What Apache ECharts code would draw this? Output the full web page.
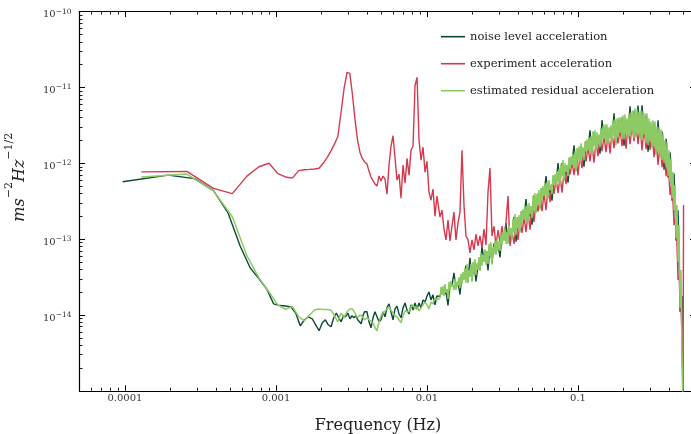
<!DOCTYPE html>
<html>
<head>
<meta charset="utf-8">
<script src="https://cdn.jsdelivr.net/npm/echarts@6/dist/echarts.min.js"></script>
<style>
html,body{margin:0;padding:0;background:#fff;}
#chart{width:691px;height:434px;}
</style>
</head>
<body>
<div id="chart"></div>
<script>
// ---------------- data ----------------
const seriesNames = ['noise level acceleration', 'experiment acceleration', 'estimated residual acceleration'];

// noise level: low-frequency bins
const noiseLowFreq = [9.65e-5, 1.93e-4, 2.895e-4, 3.86e-4, 4.825e-4, 5.79e-4, 6.755e-4, 7.72e-4, 8.685e-4, 9.65e-4,
  1.0615e-3, 1.158e-3, 1.2545e-3, 1.351e-3, 1.4475e-3, 1.544e-3, 1.6405e-3, 1.737e-3, 1.8335e-3, 1.93e-3,
  2.0265e-3, 2.123e-3, 2.2195e-3, 2.316e-3, 2.4125e-3, 2.509e-3, 2.6055e-3, 2.702e-3, 2.7985e-3, 2.895e-3,
  2.9915e-3, 3.088e-3, 3.1845e-3, 3.281e-3, 3.3775e-3, 3.474e-3, 3.5705e-3, 3.667e-3, 3.7635e-3, 3.86e-3];
const noiseLowVal = [5.7e-13, 6.99e-13, 6.28e-13, 4.36e-13, 2.2e-13, 8.13e-14, 4.17e-14, 2.99e-14, 2.2e-14, 1.40e-14,
  1.33e-14, 1.31e-14, 1.28e-14, 1.06e-14, 7.2e-15, 8.64e-15, 9.47e-15, 8.91e-15, 7.42e-15, 6.19e-15,
  7.89e-15, 8.64e-15, 7.42e-15, 6.99e-15, 9.18e-15, 1.06e-14, 9.18e-15, 8.13e-15, 9.76e-15, 9.47e-15,
  1.06e-14, 8.91e-15, 9.76e-15, 9.18e-15, 9.76e-15, 8.64e-15, 8.13e-15, 7.65e-15, 9.76e-15, 1.10e-14];

// experiment / residual: low-frequency bins
const expLowFreq = [1.285e-4, 2.57e-4, 3.855e-4, 5.14e-4, 6.425e-4, 7.71e-4, 8.995e-4, 1.028e-3, 1.1565e-3, 1.285e-3,
  1.4135e-3, 1.542e-3, 1.6705e-3, 1.799e-3, 1.9275e-3, 2.056e-3, 2.1845e-3, 2.313e-3, 2.4415e-3, 2.57e-3,
  2.6985e-3, 2.827e-3, 2.9555e-3, 3.084e-3, 3.2125e-3, 3.341e-3, 3.4695e-3, 3.598e-3, 3.7265e-3, 3.855e-3];
const expLowVal = [7.7e-13, 7.8e-13, 4.66e-13, 3.98e-13, 6.78e-13, 9.0e-13, 1.0e-12, 7.3e-13, 6.6e-13, 6.38e-13,
  8.0e-13, 8.2e-13, 8.3e-13, 8.4e-13, 8.6e-13, 1.0e-12, 1.2e-12, 1.46e-12, 1.8e-12, 2.26e-12,
  4.71e-12, 9.76e-12, 1.58e-11, 1.53e-11, 7.89e-12, 3.69e-12, 2.01e-12, 1.40e-12, 1.16e-12, 1.05e-12];
const resLowVal = [6.58e-13, 7.2e-13, 4.34e-13, 1.97e-13, 6.0e-14, 3.08e-14, 2.01e-14, 1.36e-14, 1.19e-14, 1.29e-14,
  9.55e-15, 8.38e-15, 1.0e-14, 1.16e-14, 1.2e-14, 1.18e-14, 1.18e-14, 1.16e-14, 9.76e-15, 8.13e-15,
  1.06e-14, 9.18e-15, 1.10e-14, 1.2e-14, 1.2e-14, 1.06e-14, 9.18e-15, 1.0e-14, 9.47e-15, 8.64e-15];

// mid frequencies (shared)
const midFreq = [4.007e-3, 4.131e-3, 4.259e-3, 4.391e-3, 4.527e-3, 4.667e-3, 4.812e-3, 4.961e-3, 5.115e-3, 5.273e-3,
  5.437e-3, 5.605e-3, 5.779e-3, 5.958e-3, 6.142e-3, 6.333e-3, 6.529e-3, 6.731e-3, 6.940e-3, 7.155e-3,
  7.376e-3, 7.605e-3, 7.840e-3, 8.083e-3, 8.334e-3, 8.592e-3, 8.858e-3, 9.132e-3, 9.415e-3, 9.707e-3,
  1.0e-2, 1.031e-2, 1.063e-2, 1.096e-2, 1.130e-2, 1.165e-2];
const noiseMidVal = [1.10e-14, 8.13e-15, 6.78e-15, 9.18e-15, 1.10e-14, 1.16e-14, 8.13e-15, 8.64e-15, 1.10e-14, 9.47e-15,
  1.24e-14, 1.40e-14, 1.10e-14, 8.64e-15, 1.2e-14, 1.31e-14, 1.03e-14, 9.18e-15, 1.24e-14, 1.44e-14,
  1.16e-14, 1.03e-14, 1.36e-14, 1.16e-14, 1.44e-14, 1.2e-14, 1.44e-14, 1.24e-14, 1.58e-14, 1.48e-14,
  1.78e-14, 2.01e-14, 1.58e-14, 1.84e-14, 1.36e-14, 1.78e-14];
const expMidVal = [9.76e-13, 7.89e-13, 6.58e-13, 5.9e-13, 5.32e-13, 5.0e-13, 6.78e-13, 5.82e-13, 6.78e-13, 6.19e-13,
  3.92e-13, 9.47e-13, 1.68e-12, 2.31e-12, 2.2e-12, 6.0e-13, 7.2e-13, 3.47e-13, 9.47e-13, 5.48e-13,
  1.16e-12, 6.99e-13, 1.48e-12, 1.68e-12, 1.06e-11, 1.36e-11, 2.01e-12, 1.10e-12, 1.63e-12, 7.65e-13,
  1.06e-12, 4.17e-13, 3.27e-13, 4.57e-13, 2.01e-13, 3.69e-13];
const resMidVal = [9.18e-15, 8.64e-15, 8.13e-15, 7.89e-15, 6.78e-15, 6.19e-15, 8.13e-15, 9.76e-15, 1.06e-14, 1.13e-14,
  1.2e-14, 1.28e-14, 1.16e-14, 1.06e-14, 9.76e-15, 9.47e-15, 8.64e-15, 7.89e-15, 9.76e-15, 1.13e-14,
  1.2e-14, 1.10e-14, 1.28e-14, 1.36e-14, 1.2e-14, 1.28e-14, 1.13e-14, 1.24e-14, 1.36e-14, 1.48e-14,
  1.36e-14, 1.2e-14, 1.48e-14, 1.40e-14, 1.68e-14, 1.58e-14];

// high frequencies: bins A (shared by all three series)
const hfFreq = [0.01219, 0.01257, 0.01296, 0.01336, 0.01378, 0.01420, 0.01464, 0.01509, 0.01556, 0.01604,
  0.01654, 0.01705, 0.01758, 0.01812, 0.01869, 0.01926, 0.01986, 0.02048, 0.02111, 0.02177,
  0.02244, 0.02314, 0.02385, 0.02459, 0.02536, 0.02614, 0.02695, 0.02779, 0.02865, 0.02954,
  0.03045, 0.03139, 0.03237, 0.03337, 0.03440, 0.03547, 0.03657, 0.03770, 0.03887, 0.04007,
  0.04131, 0.04259, 0.04391, 0.04527, 0.04667, 0.04812, 0.04961, 0.05115, 0.05273, 0.05437,
  0.05605, 0.05779, 0.05958, 0.06142, 0.06333, 0.06529, 0.06731, 0.06940, 0.07155, 0.07376,
  0.07605, 0.07840, 0.08083, 0.08334, 0.08592, 0.08858, 0.09132, 0.09415, 0.09707, 0.1000,
  0.1031, 0.1063, 0.1096, 0.1130, 0.1165, 0.1201, 0.1238, 0.1277, 0.1316, 0.1357,
  0.1399, 0.1442, 0.1487, 0.1533, 0.1581, 0.1630, 0.1680, 0.1732, 0.1786, 0.1841,
  0.1898, 0.1957, 0.2018, 0.2080, 0.2145, 0.2211, 0.2280, 0.2350, 0.2423, 0.2498,
  0.2576, 0.2655, 0.2738, 0.2822, 0.2910, 0.3000, 0.3093, 0.3189, 0.3288, 0.3390,
  0.3495, 0.3603, 0.3715, 0.3830, 0.3948, 0.4071, 0.4197, 0.4327, 0.4461, 0.4599,
  0.4741, 0.4888];
// high frequencies: bins B (in between bins A, residual only)
const hfFreqB = [0.01238, 0.01276, 0.01316, 0.01357, 0.01399, 0.01442, 0.01487, 0.01533, 0.01580, 0.01629,
  0.01680, 0.01732, 0.01785, 0.01841, 0.01897, 0.01956, 0.02017, 0.02079, 0.02144, 0.02210,
  0.02278, 0.02349, 0.02421, 0.02496, 0.02574, 0.02653, 0.02735, 0.02820, 0.02907, 0.02997,
  0.03090, 0.03186, 0.03284, 0.03386, 0.03491, 0.03599, 0.03710, 0.03825, 0.03944, 0.04066,
  0.04192, 0.04322, 0.04456, 0.04594, 0.04736, 0.04883, 0.05034, 0.05190, 0.05351, 0.05516,
  0.05687, 0.05863, 0.06045, 0.06232, 0.06425, 0.06624, 0.06829, 0.07041, 0.07259, 0.07484,
  0.07715, 0.07954, 0.08200, 0.08454, 0.08716, 0.08986, 0.09264, 0.09553, 0.09849, 0.1015,
  0.1047, 0.1079, 0.1113, 0.1147, 0.1183, 0.1219, 0.1257, 0.1296, 0.1336, 0.1378,
  0.1420, 0.1464, 0.1510, 0.1556, 0.1605, 0.1654, 0.1706, 0.1758, 0.1813, 0.1869,
  0.1927, 0.1987, 0.2048, 0.2112, 0.2177, 0.2244, 0.2314, 0.2385, 0.2459, 0.2535,
  0.2614, 0.2694, 0.2778, 0.2864, 0.2952, 0.3044, 0.3138, 0.3235, 0.3335, 0.3439,
  0.3545, 0.3655, 0.3768, 0.3884, 0.4005, 0.4129, 0.4256, 0.4388, 0.4524, 0.4664,
  0.4809];
const noiseHfVal = [1.76e-14, 2.18e-14, 1.87e-14, 2.03e-14, 1.34e-14, 2.61e-14, 2.46e-14, 3.59e-14, 2.25e-14, 2.74e-14,
  1.86e-14, 3.43e-14, 3.0e-14, 4.46e-14, 2.77e-14, 5.65e-14, 2.85e-14, 4.95e-14, 2.76e-14, 4.46e-14,
  4.0e-14, 7.9e-14, 5.25e-14, 6.9e-14, 3.86e-14, 8.46e-14, 4.87e-14, 8.81e-14, 6.5e-14, 8.62e-14,
  5.73e-14, 1.15e-13, 9.94e-14, 1.63e-13, 9.07e-14, 1.29e-13, 1.05e-13, 1.97e-13, 9.27e-14, 1.93e-13,
  1.28e-13, 2.32e-13, 1.87e-13, 3.37e-13, 1.76e-13, 2.5e-13, 1.55e-13, 3.78e-13, 2.31e-13, 4.0e-13,
  2.58e-13, 4.65e-13, 3.89e-13, 6.78e-13, 3.64e-13, 4.72e-13, 3.21e-13, 6.7e-13, 5.34e-13, 1.01e-12,
  5.59e-13, 1.01e-12, 6.11e-13, 8.7e-13, 5.56e-13, 1.15e-12, 9.94e-13, 1.73e-12, 8.17e-13, 1.56e-12,
  1.08e-12, 1.5e-12, 9.02e-13, 1.93e-12, 1.53e-12, 2.72e-12, 1.38e-12, 2.55e-12, 1.55e-12, 2.22e-12,
  1.34e-12, 3.7e-12, 2.18e-12, 3.04e-12, 1.93e-12, 2.93e-12, 1.98e-12, 4.57e-12, 1.85e-12, 3.76e-12,
  2.6e-12, 4.0e-12, 1.7e-12, 3.61e-12, 2.25e-12, 5.65e-12, 2.66e-12, 4.88e-12, 2.31e-12, 5.75e-12,
  2.25e-12, 5.82e-12, 2.46e-12, 4.25e-12, 1.42e-12, 3.31e-12, 1.66e-12, 3.33e-12, 1.35e-12, 3.7e-12,
  1.26e-12, 2.62e-12, 8.2e-13, 2.1e-12, 6.5e-13, 1.4e-12, 3.2e-13, 7.3e-13, 9.5e-14, 2.4e-13,
  1.1e-14, 1.78e-14];
const expHfVal = [1.95e-13, 2.41e-13, 1.36e-13, 9.76e-14, 1.78e-13, 9.47e-14, 1.48e-13, 2.27e-13, 9.76e-14, 1.63e-13,
  2.27e-13, 1.48e-12, 2.81e-13, 1.10e-13, 9.76e-14, 6.58e-14, 9.76e-14, 7.2e-14, 1.16e-13, 8.13e-14,
  1.10e-13, 7.65e-14, 1.36e-13, 8.38e-14, 4.17e-13, 8.64e-13, 1.10e-13, 1.48e-13, 8.13e-14, 1.31e-13,
  9.18e-14, 1.48e-13, 9.76e-14, 1.68e-13, 3.69e-13, 8.13e-14, 1.28e-13, 8.64e-14, 1.44e-13, 9.76e-14,
  1.68e-13, 1.21e-13, 1.95e-13, 1.24e-13, 2.27e-13, 1.33e-13, 2.64e-13, 1.68e-13, 3.08e-13, 2.31e-13,
  3.58e-13, 2.34e-13, 4.04e-13, 2.4e-13, 4.71e-13, 3.08e-13, 5.32e-13, 3.94e-13, 6.19e-13, 4.04e-13,
  6.78e-13, 4.11e-13, 7.89e-13, 5.32e-13, 9.18e-13, 7.12e-13, 1.03e-12, 6.99e-13, 1.16e-12, 6.94e-13,
  1.31e-12, 8.64e-13, 1.44e-12, 1.06e-12, 1.63e-12, 1.06e-12, 1.78e-12, 1.02e-12, 1.95e-12, 1.24e-12,
  2.14e-12, 1.44e-12, 2.27e-12, 1.40e-12, 2.41e-12, 1.35e-12, 2.56e-12, 1.58e-12, 2.73e-12, 1.83e-12,
  2.81e-12, 1.68e-12, 2.9e-12, 1.56e-12, 3.08e-12, 1.78e-12, 3.17e-12, 1.96e-12, 3.27e-12, 1.78e-12,
  3.27e-12, 1.48e-12, 2.99e-12, 1.53e-12, 2.81e-12, 1.5e-12, 2.49e-12, 1.20e-12, 2.2e-12, 9.5e-13,
  1.84e-12, 8.91e-13, 1.53e-12, 6.78e-13, 1.06e-12, 3.81e-13, 5.65e-13, 1.53e-13, 2.07e-13, 2.9e-14,
  3.37e-14, 4.71e-15];
// residual: values at bins A (lower edge of the band) and bins B (upper edge)
const resHfValA = [1.68e-14, 1.84e-14, 1.78e-14, 1.95e-14, 1.63e-14, 2.07e-14, 2.34e-14, 2.14e-14, 2.14e-14, 2.41e-14,
  2.27e-14, 2.56e-14, 2.9e-14, 2.64e-14, 2.64e-14, 3.17e-14, 2.73e-14, 3.58e-14, 3.37e-14, 3.92e-14,
  3.81e-14, 4.43e-14, 5.0e-14, 4.57e-14, 4.71e-14, 6.0e-14, 4.64e-14, 6.38e-14, 6.19e-14, 7.2e-14,
  6.99e-14, 8.38e-14, 9.47e-14, 8.64e-14, 8.64e-14, 1.13e-13, 1.0e-13, 1.24e-13, 1.13e-13, 1.40e-13,
  1.22e-13, 1.68e-13, 1.78e-13, 1.63e-13, 1.68e-13, 2.14e-13, 1.89e-13, 2.34e-13, 2.2e-13, 2.81e-13,
  2.45e-13, 3.27e-13, 3.69e-13, 3.58e-13, 3.47e-13, 4.43e-13, 3.92e-13, 5.16e-13, 5.1e-13, 5.65e-13,
  5.32e-13, 6.78e-13, 5.82e-13, 7.65e-13, 6.78e-13, 8.38e-13, 9.47e-13, 8.64e-13, 7.77e-13, 1.10e-12,
  1.03e-12, 1.20e-12, 1.10e-12, 1.44e-12, 1.46e-12, 1.36e-12, 1.31e-12, 1.68e-12, 1.48e-12, 1.73e-12,
  1.63e-12, 2.01e-12, 2.07e-12, 1.84e-12, 1.84e-12, 2.14e-12, 1.89e-12, 2.27e-12, 1.75e-12, 2.2e-12,
  2.49e-12, 2.07e-12, 2.07e-12, 2.41e-12, 2.14e-12, 2.27e-12, 2.53e-12, 2.14e-12, 2.2e-12, 2.41e-12,
  2.14e-12, 2.01e-12, 2.34e-12, 1.84e-12, 1.73e-12, 1.95e-12, 1.58e-12, 1.68e-12, 1.29e-12, 1.44e-12,
  1.20e-12, 1.10e-12, 1.0e-12, 9.18e-13, 6.78e-13, 5.65e-13, 3.47e-13, 2.41e-13, 1.03e-13, 5.0e-14,
  1.24e-14, 2.56e-15];
const resHfValB = [2.34e-14, 2.41e-14, 2.56e-14, 2.2e-14, 2.73e-14, 2.81e-14, 2.49e-14, 2.99e-14, 2.73e-14, 3.17e-14,
  3.47e-14, 3.69e-14, 4.17e-14, 4.71e-14, 3.92e-14, 4.71e-14, 5.0e-14, 5.48e-14, 4.85e-14, 5.82e-14,
  6.58e-14, 6.19e-14, 7.42e-14, 6.99e-14, 8.64e-14, 9.18e-14, 7.89e-14, 9.47e-14, 9.76e-14, 9.33e-14,
  1.16e-13, 1.24e-13, 1.36e-13, 1.24e-13, 1.53e-13, 1.40e-13, 1.84e-13, 2.14e-13, 1.95e-13, 2.07e-13,
  2.34e-13, 2.49e-13, 2.73e-13, 2.81e-13, 2.99e-13, 2.73e-13, 3.69e-13, 4.04e-13, 3.92e-13, 4.43e-13,
  4.71e-13, 5.0e-13, 5.48e-13, 5.65e-13, 6.0e-13, 5.16e-13, 6.99e-13, 7.2e-13, 7.89e-13, 8.38e-13,
  9.76e-13, 1.10e-12, 1.0e-12, 9.47e-13, 1.20e-12, 1.24e-12, 1.31e-12, 1.44e-12, 1.58e-12, 1.68e-12,
  1.84e-12, 1.63e-12, 1.95e-12, 2.07e-12, 2.2e-12, 2.27e-12, 2.64e-12, 2.73e-12, 2.56e-12, 2.41e-12,
  2.9e-12, 3.08e-12, 3.27e-12, 3.27e-12, 2.99e-12, 3.17e-12, 3.69e-12, 3.81e-12, 3.92e-12, 4.04e-12,
  4.04e-12, 4.3e-12, 4.43e-12, 3.92e-12, 4.57e-12, 4.71e-12, 5.0e-12, 5.32e-12, 5.16e-12, 4.78e-12,
  5.0e-12, 4.85e-12, 4.57e-12, 4.57e-12, 3.92e-12, 3.58e-12, 3.69e-12, 3.58e-12, 3.08e-12, 2.99e-12,
  2.81e-12, 2.49e-12, 2.01e-12, 1.89e-12, 1.48e-12, 1.16e-12, 7.65e-13, 5.16e-13, 2.81e-13, 1.53e-13,
  3.92e-14];

// Nyquist end
const tailFreq = [0.4961, 0.5];
const noiseTailVal = [5e-16, 5e-16];
const expTailVal = [6e-16, 2.81e-13];
const resTailVal = [6e-16, 6e-16];

// axis ticks
const xMinorTicks = [6e-5, 7e-5, 8e-5, 9e-5,
  2e-4, 3e-4, 4e-4, 5e-4, 6e-4, 7e-4, 8e-4, 9e-4,
  2e-3, 3e-3, 4e-3, 5e-3, 6e-3, 7e-3, 8e-3, 9e-3,
  2e-2, 3e-2, 4e-2, 5e-2, 6e-2, 7e-2, 8e-2, 9e-2,
  0.2, 0.3, 0.4, 0.5];
const yMinorTicks = [2e-15, 3e-15, 4e-15, 5e-15, 6e-15, 7e-15, 8e-15, 9e-15,
  2e-14, 3e-14, 4e-14, 5e-14, 6e-14, 7e-14, 8e-14, 9e-14,
  2e-13, 3e-13, 4e-13, 5e-13, 6e-13, 7e-13, 8e-13, 9e-13,
  2e-12, 3e-12, 4e-12, 5e-12, 6e-12, 7e-12, 8e-12, 9e-12,
  2e-11, 3e-11, 4e-11, 5e-11, 6e-11, 7e-11, 8e-11, 9e-11];
const xMin = 5e-5, xMax = 0.6, yMin = 1e-15, yMax = 1e-10;

// ---------------- chart ----------------
const colors = ['#0b4a34', '#d6394e', '#8dca64'];
const FONT = 'DejaVu Serif';
function pairs(f, v) { return f.map(function (x, i) { return [x, v[i]]; }); }
function byFreq(a, b) { return a[0] - b[0]; }
const noiseData = pairs(noiseLowFreq, noiseLowVal).concat(pairs(midFreq, noiseMidVal), pairs(hfFreq, noiseHfVal), pairs(tailFreq, noiseTailVal));
const expData = pairs(expLowFreq, expLowVal).concat(pairs(midFreq, expMidVal), pairs(hfFreq, expHfVal), pairs(tailFreq, expTailVal));
const resData = pairs(expLowFreq, resLowVal).concat(pairs(midFreq, resMidVal),
  pairs(hfFreq, resHfValA).concat(pairs(hfFreqB, resHfValB)).sort(byFreq), pairs(tailFreq, resTailVal));

function isPow10(v) { const l = Math.log10(v); return Math.abs(l - Math.round(l)) < 1e-6; }
const lg = function (arr) { return arr.map(function (v) { return Math.log10(v); }); };

const axisLineStyle = { color: '#000', width: 1.2 };
const tickMajor = { show: true, inside: true, length: 5.5, lineStyle: { color: '#000', width: 1 } };
const tickMinor = { show: true, inside: true, length: 3, lineStyle: { color: '#000', width: 0.9 } };

const chart = echarts.init(document.getElementById('chart'), null, { renderer: 'canvas' });
chart.setOption({
  animation: false,
  backgroundColor: '#fff',
  grid: { left: 79.5, right: -4.5, top: 11.6, bottom: 43.2, containLabel: false, outerBoundsMode: 'none' },
  legend: {
    data: seriesNames,
    orient: 'vertical',
    left: 436, top: 24.7,
    icon: 'rect', itemWidth: 24, itemHeight: 1.6, itemGap: 13,
    textStyle: { fontFamily: FONT, fontSize: 11.5, color: '#222', lineHeight: 14 },
    selectedMode: false
  },
  xAxis: [
    { type: 'log', logBase: 10, min: xMin, max: xMax, position: 'bottom',
      axisLine: { show: true, onZero: false, lineStyle: axisLineStyle },
      axisTick: tickMajor, splitLine: { show: false },
      axisLabel: { margin: 3, fontFamily: FONT, fontSize: 10, color: '#333',
        formatter: function (v) { if (!isPow10(v)) return ''; const e = Math.round(Math.log10(v)); return e < 0 ? Math.pow(10, e).toFixed(-e) : String(Math.pow(10, e)); } },
      name: 'Frequency (Hz)', nameLocation: 'middle', nameGap: 27,
      nameTextStyle: { fontFamily: FONT, fontSize: 16, color: '#222', padding: [0, 19, 0, 0] } },
    { type: 'value', min: Math.log10(xMin), max: Math.log10(xMax), position: 'bottom',
      axisLine: { show: false, onZero: false }, axisLabel: { show: false }, splitLine: { show: false },
      axisTick: Object.assign({ customValues: lg(xMinorTicks) }, tickMinor) },
    { type: 'log', logBase: 10, min: xMin, max: xMax, position: 'top',
      axisLine: { show: true, onZero: false, lineStyle: axisLineStyle },
      axisTick: tickMajor, splitLine: { show: false }, axisLabel: { show: false } },
    { type: 'value', min: Math.log10(xMin), max: Math.log10(xMax), position: 'top',
      axisLine: { show: false, onZero: false }, axisLabel: { show: false }, splitLine: { show: false },
      axisTick: Object.assign({ customValues: lg(xMinorTicks) }, tickMinor) }
  ],
  yAxis: [
    { type: 'log', logBase: 10, min: yMin, max: yMax, position: 'left',
      axisLine: { show: true, onZero: false, lineStyle: axisLineStyle },
      axisTick: tickMajor, splitLine: { show: false },
      axisLabel: { margin: 8, color: '#333', padding: [6, 0, 0, 0],
        formatter: function (v) { if (!isPow10(v)) return ''; const e = Math.round(Math.log10(v)); if (e <= -15) return ''; return '{b|10}{s|\u2212' + (-e) + '}'; },
        rich: {
          b: { fontFamily: FONT, fontSize: 10, lineHeight: 14, color: '#333' },
          s: { fontFamily: FONT, fontSize: 7.5, lineHeight: 6, verticalAlign: 'top', color: '#333' }
        } },
      name: '{i|ms}{s|\u22122}{i|Hz}{s|\u22121/2}', nameLocation: 'middle', nameRotate: 90, nameGap: 52,
      nameTextStyle: { color: '#222', padding: [0, 0, 0, 48],
        rich: {
          i: { fontFamily: FONT, fontStyle: 'italic', fontSize: 16, lineHeight: 24, verticalAlign: 'bottom', color: '#222' },
          s: { fontFamily: FONT, fontSize: 11, lineHeight: 10, verticalAlign: 'top', color: '#222' }
        } } },
    { type: 'value', min: -15, max: -10, position: 'left',
      axisLine: { show: false, onZero: false }, axisLabel: { show: false }, splitLine: { show: false },
      axisTick: Object.assign({ customValues: lg(yMinorTicks) }, tickMinor) },
    { type: 'log', logBase: 10, min: yMin, max: yMax, position: 'right',
      axisLine: { show: true, onZero: false, lineStyle: axisLineStyle },
      axisTick: tickMajor, splitLine: { show: false }, axisLabel: { show: false } },
    { type: 'value', min: -15, max: -10, position: 'right',
      axisLine: { show: false, onZero: false }, axisLabel: { show: false }, splitLine: { show: false },
      axisTick: Object.assign({ customValues: lg(yMinorTicks) }, tickMinor) }
  ],
  series: [
    { name: seriesNames[0], type: 'line', data: noiseData, xAxisIndex: 0, yAxisIndex: 0,
      symbol: 'none', showSymbol: false, clip: true, color: colors[0],
      lineStyle: { color: colors[0], width: 1.4 } },
    { name: seriesNames[1], type: 'line', data: expData, xAxisIndex: 0, yAxisIndex: 0,
      symbol: 'none', showSymbol: false, clip: true, color: colors[1],
      lineStyle: { color: colors[1], width: 1.4 } },
    { name: seriesNames[2], type: 'line', data: resData, xAxisIndex: 0, yAxisIndex: 0,
      symbol: 'none', showSymbol: false, clip: true, color: colors[2],
      lineStyle: { color: colors[2], width: 1.5 } }
  ]
});
</script>
</body>
</html>
